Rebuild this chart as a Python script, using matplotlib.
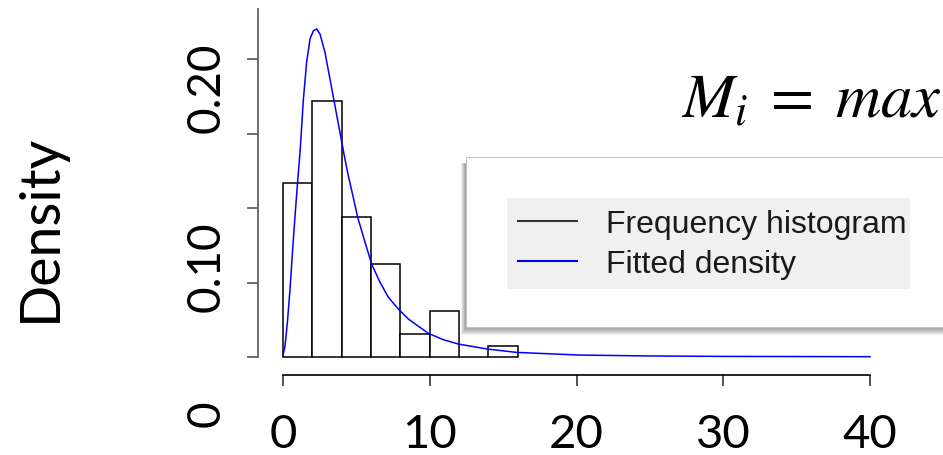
import matplotlib
matplotlib.use("Agg")
import numpy as np
import matplotlib.pyplot as plt
from matplotlib.lines import Line2D
from matplotlib.patches import Rectangle
import matplotlib.transforms as mtransforms

# ---------------- data ----------------
bin_edges = [0, 2, 4, 6, 8, 10, 12, 14, 16]
bin_density = [0.117, 0.172, 0.094, 0.0624, 0.0154, 0.031, 0.0, 0.0076]

curve_x = [0, 0.14, 0.30, 0.48, 0.66, 0.82, 1.0, 1.16, 1.39, 1.61, 1.84, 2.07,
           2.29, 2.52, 2.86, 3.2, 3.54, 3.88, 4.22, 4.45, 4.79, 5.09, 5.59,
           6.04, 6.61, 7.18, 7.86, 8.54, 9.9, 10.93, 11.95, 13.88, 15.9,
           20.2, 25, 30, 40]
curve_y = [0.001, 0.0076, 0.0233, 0.0456, 0.0725, 0.0948, 0.118, 0.1374,
           0.173, 0.1978, 0.2134, 0.219, 0.2201, 0.2168, 0.2045, 0.1866,
           0.1687, 0.1508, 0.1329, 0.1217, 0.107, 0.0937, 0.077, 0.0624,
           0.0501, 0.0401, 0.0322, 0.0255, 0.0159, 0.0116, 0.0087, 0.0054,
           0.0031, 0.0013, 0.0007, 0.0004, 0.0002]

x_ticks = [0, 10, 20, 30, 40]
x_tick_labels = ["0", "10", "20", "30", "40"]
y_ticks = [0, 0.05, 0.10, 0.15, 0.20]
y_tick_labels = ["0", "", "0.10", "", "0.20"]
y_label = "Density"
formula = r"$M_i\;=\;max$"
legend_labels = ["Frequency histogram", "Fitted density"]

# ---------------- layout ----------------
plt.rcParams["mathtext.fontset"] = "stix"
W, H = 943, 456
fig = plt.figure(figsize=(W / 100, H / 100), dpi=100)


def fx(px):
    return px / W


def fy(py):
    return 1 - py / H


ax = fig.add_axes([fx(283), fy(358), fx(870) - fx(283), fy(10) - fy(358)])
ax.set_xlim(0, 40)
ax.set_ylim(0, 348 / 74.5 * 0.05)

widths = np.diff(bin_edges)
ax.bar(bin_edges[:-1], bin_density, width=widths, align="edge",
       facecolor="white", edgecolor="black", linewidth=1.1, clip_on=False,
       zorder=2)
ax.plot(curve_x, curve_y, color="blue", lw=1.1, clip_on=False, zorder=3,
        solid_joinstyle="round")

for s in ["top", "right"]:
    ax.spines[s].set_visible(False)
ax.spines["left"].set_position(("outward", 18))
ax.spines["left"].set_color("#555555")
ax.spines["left"].set_linewidth(1.2)
ax.spines["bottom"].set_position(("outward", 13))
ax.spines["bottom"].set_bounds(0, 40)
ax.spines["bottom"].set_color("black")
ax.spines["bottom"].set_linewidth(1.2)

ax.set_xticks(x_ticks)
ax.set_xticklabels(x_tick_labels, fontsize=34, family="Lato")
ax.set_yticks(y_ticks)
ax.set_yticklabels(y_tick_labels, fontsize=33, family="Lato", rotation=90,
                   va="center")
ax.tick_params(axis="x", length=8, width=1.2, color="#333333", pad=19)
ax.tick_params(axis="y", length=8, width=1.2, color="#555555", pad=14)

y_label_shift_px = [56, 0, 58, 0, 28]
for lab, off in zip(ax.get_yticklabels(), y_label_shift_px):
    lab.set_transform(lab.get_transform() +
                      mtransforms.ScaledTranslation(0, -off / 100,
                                                    fig.dpi_scale_trans))

fig.text(fx(40), fy(228), y_label, rotation=90, ha="center", va="center",
         fontsize=40, family="Lato")

fig.text(fx(681), fy(117), formula, fontsize=45, ha="left", va="baseline")

# legend panel: blurred shadow, white outer box, grey inner box
for k in range(1, 9):
    sh = Rectangle((fx(466 - 0.6 * k), fy(328 + k)), 1.0,
                   (328 + k - 164) / H, transform=fig.transFigure,
                   facecolor="black", edgecolor="none", alpha=0.055,
                   zorder=4)
    fig.patches.append(sh)
outer = Rectangle((fx(466), fy(328)), 1.0, (328 - 158) / H,
                  transform=fig.transFigure, facecolor="white",
                  edgecolor="#c4c4c4", linewidth=0.8, zorder=5)
fig.patches.append(outer)
inner = Rectangle((fx(507), fy(290)), fx(910) - fx(507), (290 - 199) / H,
                  transform=fig.transFigure, facecolor="#f0f0f0",
                  edgecolor="none", zorder=6)
fig.patches.append(inner)

handles = [Line2D([], [], color="#333333", lw=1.5),
           Line2D([], [], color="blue", lw=1.5)]
leg = fig.legend(handles=handles, labels=legend_labels, loc="upper left",
                 bbox_to_anchor=(fx(507), fy(199)),
                 bbox_transform=fig.transFigure, frameon=False,
                 prop={"family": "Liberation Sans", "size": 23},
                 handlelength=1.85, handletextpad=0.9, labelspacing=0.3,
                 borderpad=0.35, borderaxespad=0)
leg.set_zorder(7)
for t in leg.get_texts():
    t.set_color("#1a1a1a")

fig.savefig("out.png", dpi=100)
